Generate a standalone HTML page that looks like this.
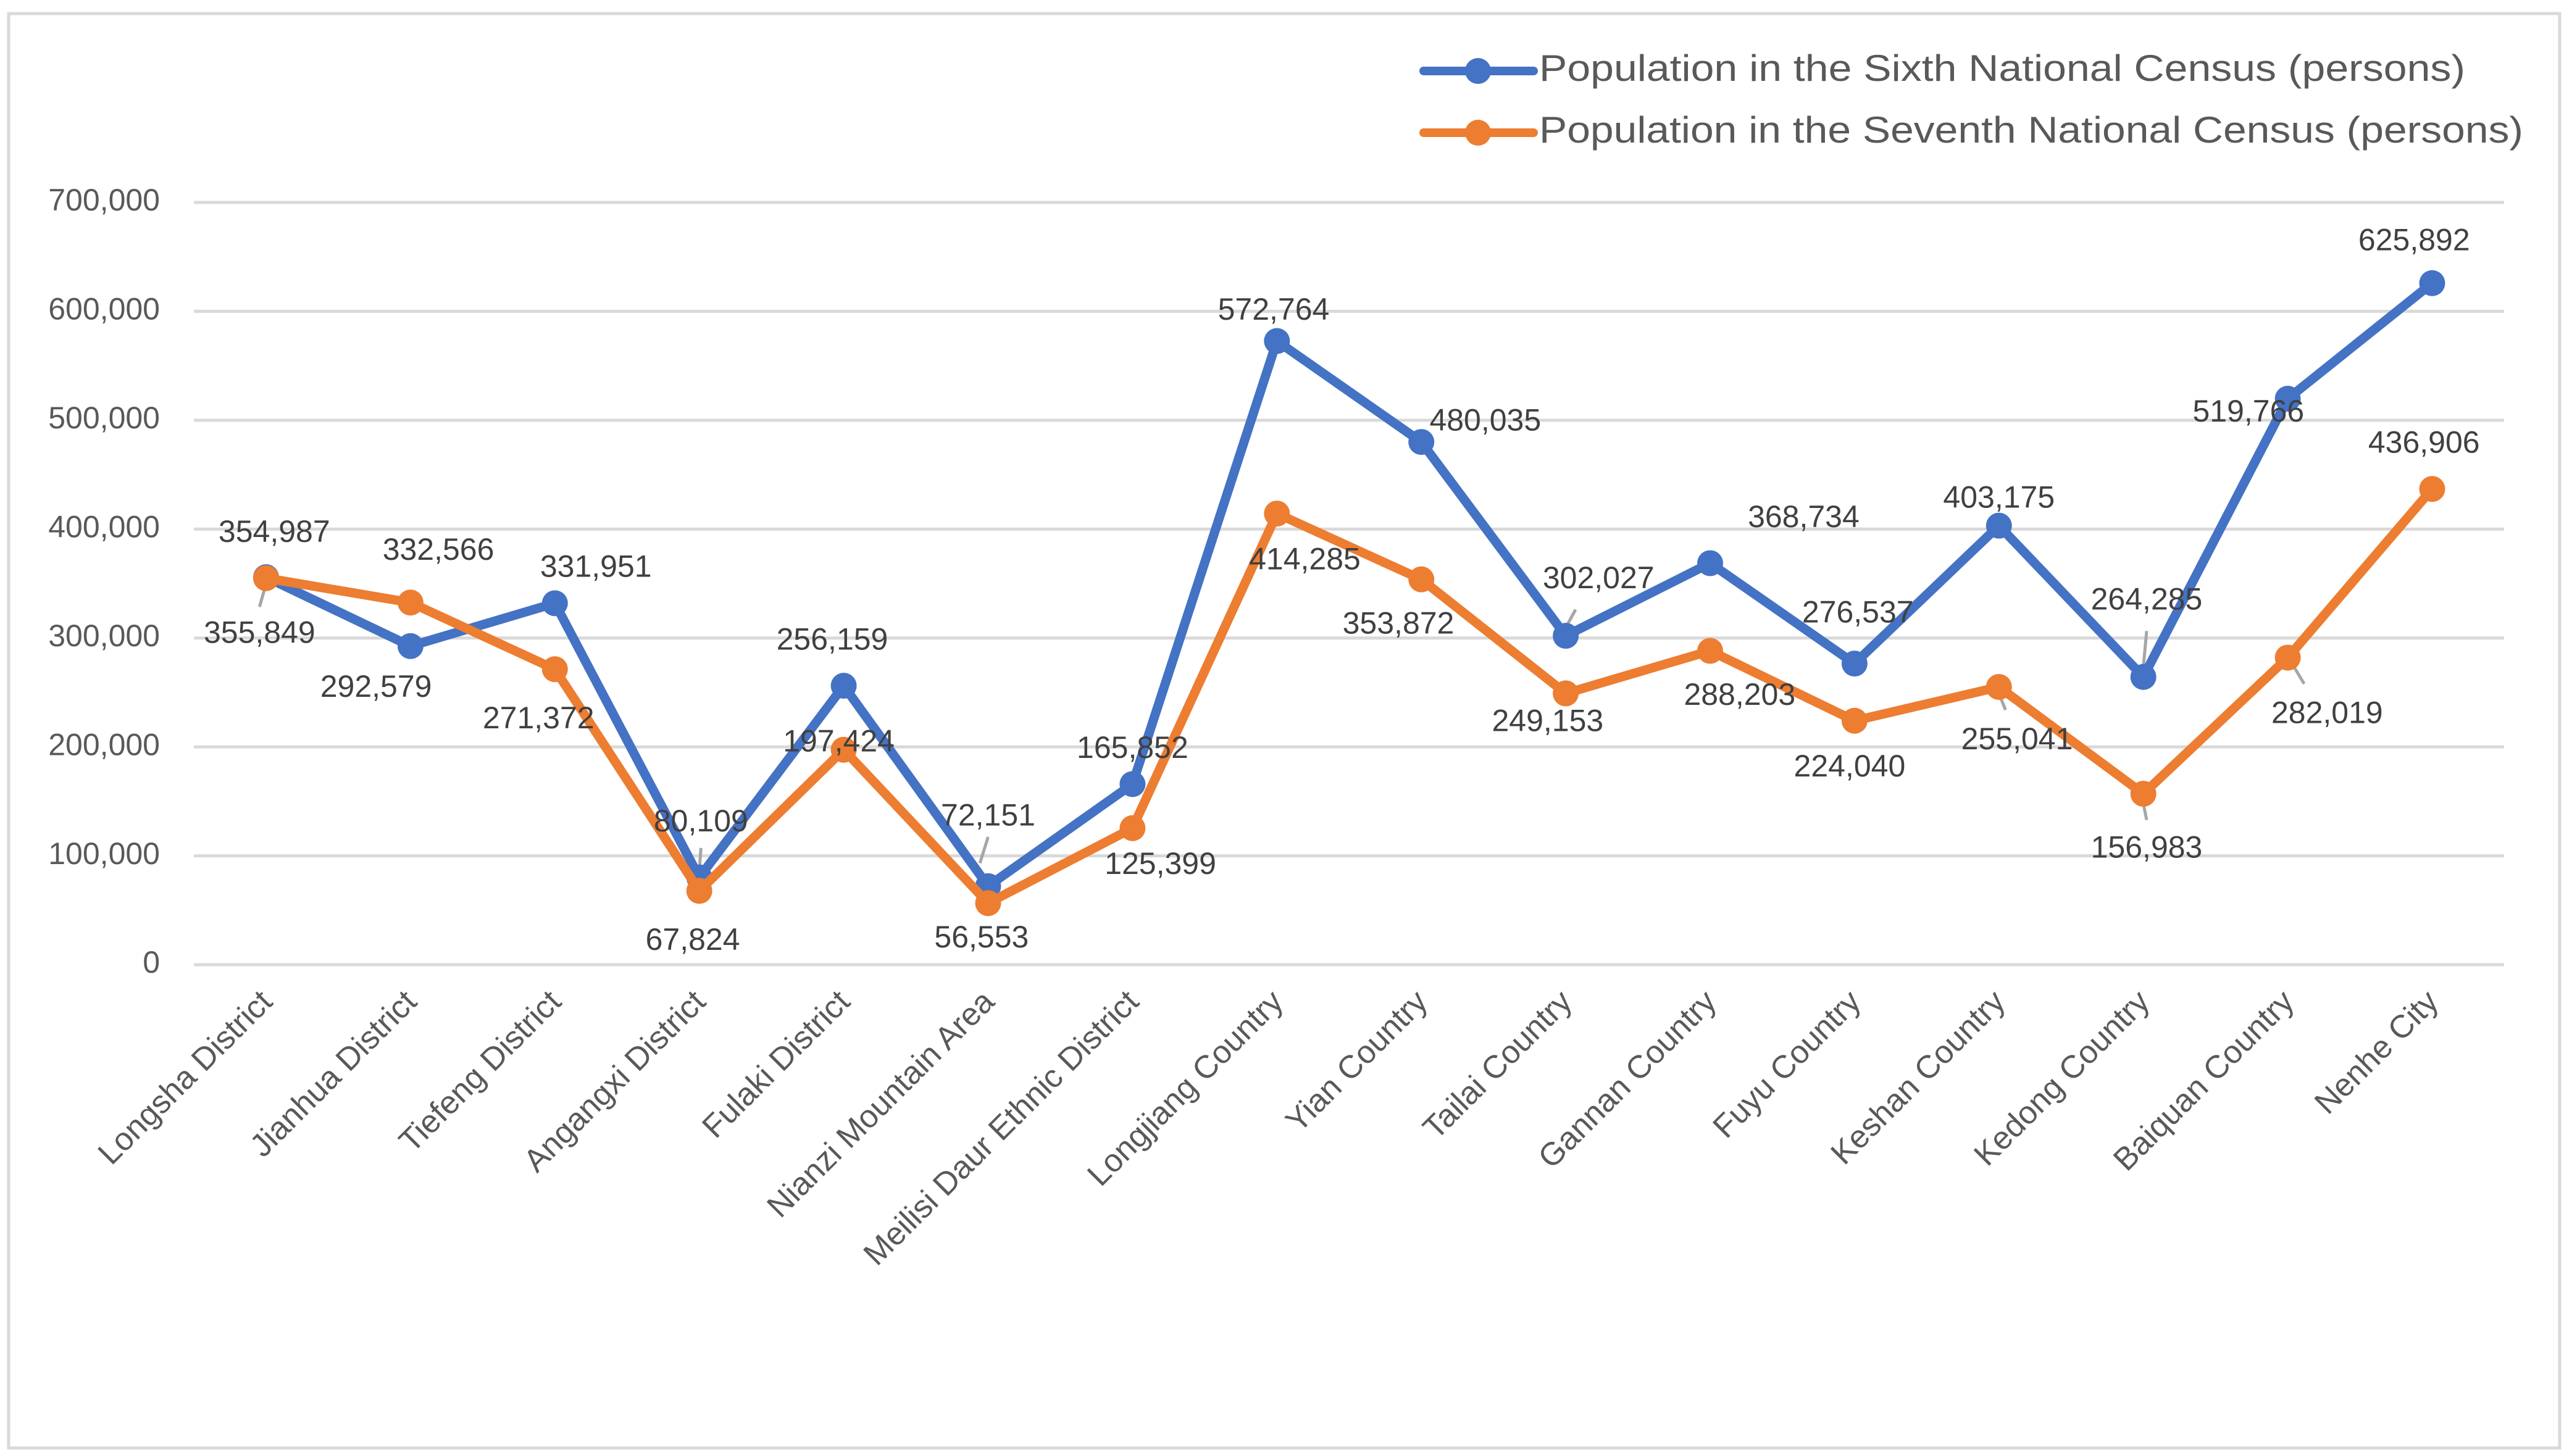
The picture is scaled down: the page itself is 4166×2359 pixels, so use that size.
<!DOCTYPE html>
<html><head><meta charset="utf-8"><style>
html,body{margin:0;padding:0;background:#fff}
svg{display:block}
text{font-family:"Liberation Sans",sans-serif}
</style></head><body>
<svg id="chart" width="4166" height="2359" viewBox="0 0 4166 2359" xmlns="http://www.w3.org/2000/svg">
<rect x="14" y="22" width="4132" height="2324" fill="#fff" stroke="#d9d9d9" stroke-width="5"/>
<g id="grid"></g><g id="yticks"></g><g id="xcats"></g><g id="leaders"></g><g id="series"></g><g id="labels"></g>
<g>
<g>
<line x1="2306" y1="115" x2="2484" y2="115" stroke="#4472c4" stroke-width="14" stroke-linecap="round"/>
<circle cx="2394" cy="115" r="21" fill="#4472c4"/>
<text x="2493" y="115" font-size="60" fill="#595959" dominant-baseline="middle" textLength="1500" lengthAdjust="spacingAndGlyphs">Population in the Sixth National Census (persons)</text>
</g>
<g>
<line x1="2306" y1="215" x2="2484" y2="215" stroke="#ed7d31" stroke-width="14" stroke-linecap="round"/>
<circle cx="2394" cy="215" r="21" fill="#ed7d31"/>
<text x="2493" y="215" font-size="60" fill="#595959" dominant-baseline="middle" textLength="1594" lengthAdjust="spacingAndGlyphs">Population in the Seventh National Census (persons)</text>
</g>
</g>
</svg>
<script>
const categories=["Longsha District","Jianhua District","Tiefeng District","Angangxi District","Fulaki District","Nianzi Mountain Area","Meilisi Daur Ethnic District","Longjiang Country","Yian Country","Tailai Country","Gannan Country","Fuyu Country","Keshan Country","Kedong Country","Baiquan Country","Nenhe City"];
const sixth=[355849,292579,331951,80109,256159,72151,165852,572764,480035,302027,368734,276537,403175,264285,519766,625892];
const seventh=[354987,332566,271372,67824,197424,56553,125399,414285,353872,249153,288203,224040,255041,156983,282019,436906];
const yTicks=[0,100000,200000,300000,400000,500000,600000,700000];
// label offsets (display px, scaled below)
const sixOff=[[-4,35],[-21,26],[25,-21],[1,-33],[-7,-27],[0,-42],[0,-21],[-2,-18],[39,-12],[20,-34],[57,-27],[2,-30],[0,-16],[2,-46],[-24,9],[-11,-25]];
const sevOff=[[5,-27],[17,-31],[-10,31],[-4,31],[-3,-4],[-4,22],[17,23],[17,29],[-14,28],[-11,18],[18,28],[-3,29],[11,33],[2,34],[24,35],[-5,-27]];
// leader lines: [seriesIndex(0=sixth,1=seventh), category index, dx1,dy1,dx2,dy2 display px]
const leaders=[[0,0,-4,18,0,4],[0,3,1,-18,0,-4],[0,5,0,-30,-5,-14],[0,9,6,-16,0,-5],[1,12,4,14,0,4],[0,13,2,-28,0,-6],[1,13,0,6,2,16],[1,14,4,6,10,16]];
const NS="http://www.w3.org/2000/svg";
const X0=431,STEP=233.9,Y0=1563,YH=1235,YMAX=700000,S=2.657;
const xs=i=>X0+i*STEP, ys=v=>Y0-v/YMAX*YH;
const fmt=v=>v.toLocaleString("en-US");
function mk(tag,attrs,parent,txt){const e=document.createElementNS(NS,tag);for(const k in attrs)e.setAttribute(k,attrs[k]);if(txt!==undefined)e.textContent=txt;parent.appendChild(e);return e;}
const grid=document.getElementById("grid"),yt=document.getElementById("yticks"),xc=document.getElementById("xcats"),ser=document.getElementById("series"),lab=document.getElementById("labels"),ld=document.getElementById("leaders");
yTicks.forEach(t=>{
  const l=mk("line",{x1:314,x2:4056,y1:ys(t),y2:ys(t),stroke:"#d9d9d9","stroke-width":5},grid);
  
  
  const tx=mk("text",{x:259,y:ys(t),"font-size":50,fill:"#595959","text-anchor":"end","dominant-baseline":"middle"},yt,fmt(t));
  
  
});
categories.forEach((c,i)=>{
  const x=xs(i)+13,y=1626;
  const t=mk("text",{x:x,y:y,"font-size":52,fill:"#595959","text-anchor":"end",transform:`rotate(-45 ${x} ${y})`},xc,c);
  
  
});
leaders.forEach(L=>{
  const v=(L[0]===0?sixth:seventh)[L[1]];
  const px=xs(L[1]),py=ys(v);
  const l=mk("line",{x1:px+L[2]*S,y1:py+L[3]*S,x2:px+L[4]*S,y2:py+L[5]*S,stroke:"#a6a6a6","stroke-width":5},ld);
  
  
});
function drawSeries(vals,color,name){
  const g=mk("g",{},ser);
  
  
  const p=mk("polyline",{points:vals.map((v,i)=>xs(i)+","+ys(v)).join(" "),fill:"none",stroke:color,"stroke-width":15,"stroke-linejoin":"round"},g);
  
  
  vals.forEach((v,i)=>{
    const c=mk("circle",{cx:xs(i),cy:ys(v),r:21,fill:color},g);
    
    
  });
}
drawSeries(sixth,"#4472c4","series-sixth");
drawSeries(seventh,"#ed7d31","series-seventh");
function drawLabels(vals,off,name){
  vals.forEach((v,i)=>{
    const t=mk("text",{x:xs(i)+off[i][0]*S,y:ys(v)+off[i][1]*S,"font-size":50,fill:"#404040","text-anchor":"middle","dominant-baseline":"middle"},lab,fmt(v));
    
    
  });
}
drawLabels(sixth,sixOff,"sixth-value-label");
drawLabels(seventh,sevOff,"seventh-value-label");
</script>
</body></html>
